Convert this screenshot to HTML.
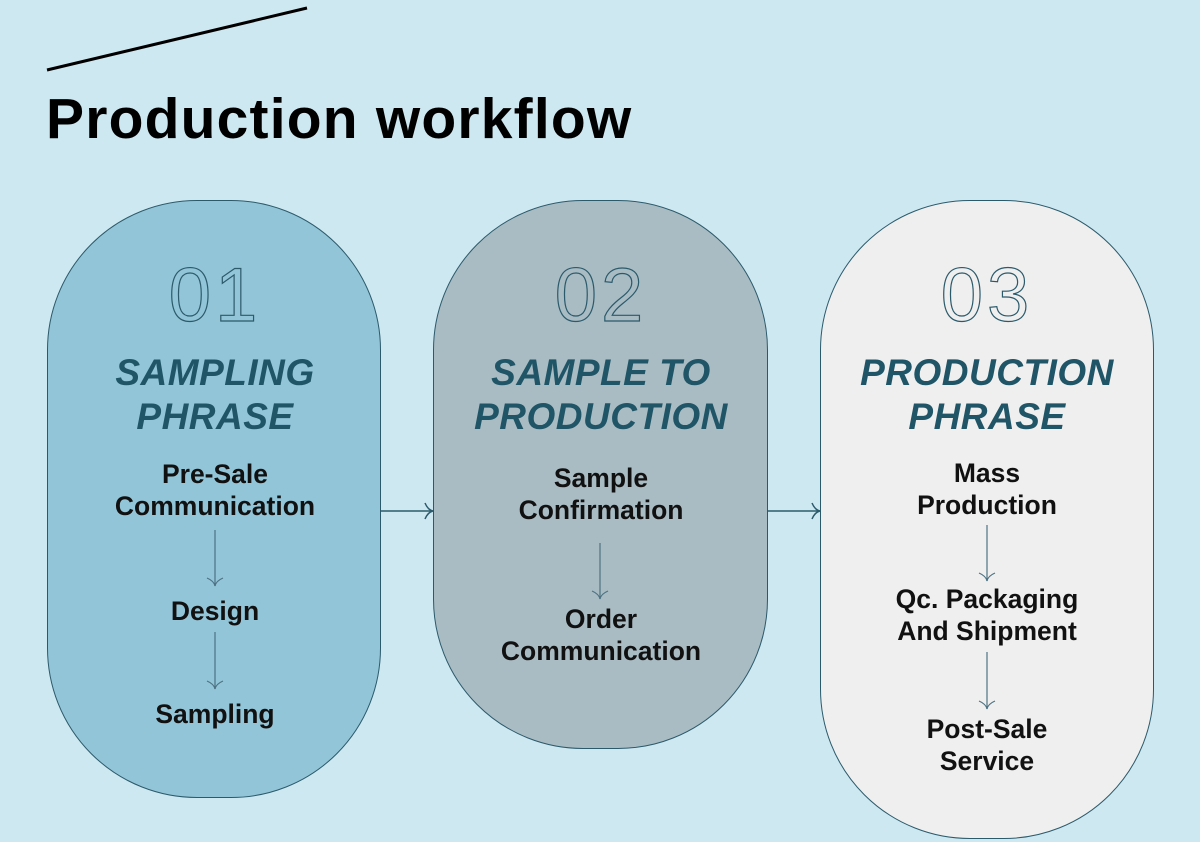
<!DOCTYPE html>
<html><head><meta charset="utf-8"><style>
*{margin:0;padding:0;box-sizing:border-box}
body{width:1200px;height:842px;background:#cde8f1;position:relative;overflow:hidden;font-family:"Liberation Sans",sans-serif}
.card{position:absolute;border:1.3px solid #2b5a6b;border-radius:150px}
.t{position:absolute;text-align:center;width:334px}
.num{font-size:76px;font-weight:400;color:transparent;-webkit-text-stroke:1.2px #2b5a6b;letter-spacing:4px;line-height:1}
.h{font-size:37px;font-weight:bold;font-style:italic;color:#1f5566;line-height:44px;letter-spacing:0.5px}
.b{font-size:26.5px;font-weight:bold;color:#111;line-height:32px}
</style></head><body>
<svg width="1200" height="842" style="position:absolute;left:0;top:0">
<line x1="47" y1="70" x2="307" y2="8" stroke="#000" stroke-width="3"/>
</svg>
<div style="position:absolute;left:46px;top:86px;font-size:57px;font-weight:bold;color:#000;letter-spacing:1.2px">Production workflow</div>

<div class="card" style="left:47px;top:200px;width:334px;height:598px;background:#92c5d8"></div>
<div class="card" style="left:433px;top:200px;width:335px;height:549px;background:#a9bcc3"></div>
<div class="card" style="left:820px;top:200px;width:334px;height:639px;background:#efefef"></div>

<svg width="1200" height="842" style="position:absolute;left:0;top:0" fill="none" stroke="#2b5a6b" stroke-width="1.5">
<line x1="381" y1="511" x2="432" y2="511"/><path d="M425 503 Q428 510 433 511 Q428 512 425 519"/>
<line x1="768" y1="511" x2="819" y2="511"/><path d="M812 503 Q815 510 820 511 Q815 512 812 519"/>
<g stroke="#4d7282" stroke-width="1.2">
<line x1="215" y1="530" x2="215" y2="586"/><path d="M207 578 Q214 581 215 586 Q216 581 223 578"/>
<line x1="215" y1="632" x2="215" y2="689"/><path d="M207 681 Q214 684 215 689 Q216 684 223 681"/>
<line x1="600" y1="543" x2="600" y2="599"/><path d="M592 591 Q599 594 600 599 Q601 594 608 591"/>
<line x1="987" y1="525" x2="987" y2="581"/><path d="M979 573 Q986 576 987 581 Q988 576 995 573"/>
<line x1="987" y1="652" x2="987" y2="709"/><path d="M979 701 Q986 704 987 709 Q988 704 995 701"/>
</g>
</svg>

<div class="t num" style="left:48px;top:258px">01</div>
<div class="t h" style="left:48px;top:351px">SAMPLING<br>PHRASE</div>
<div class="t b" style="left:48px;top:458px">Pre-Sale<br>Communication</div>
<div class="t b" style="left:48px;top:595px">Design</div>
<div class="t b" style="left:48px;top:698px">Sampling</div>

<div class="t num" style="left:434px;top:258px">02</div>
<div class="t h" style="left:434px;top:351px">SAMPLE TO<br>PRODUCTION</div>
<div class="t b" style="left:434px;top:462px">Sample<br>Confirmation</div>
<div class="t b" style="left:434px;top:603px">Order<br>Communication</div>

<div class="t num" style="left:820px;top:258px">03</div>
<div class="t h" style="left:820px;top:351px">PRODUCTION<br>PHRASE</div>
<div class="t b" style="left:820px;top:457px">Mass<br>Production</div>
<div class="t b" style="left:820px;top:583px">Qc. Packaging<br>And Shipment</div>
<div class="t b" style="left:820px;top:713px">Post-Sale<br>Service</div>
</body></html>
